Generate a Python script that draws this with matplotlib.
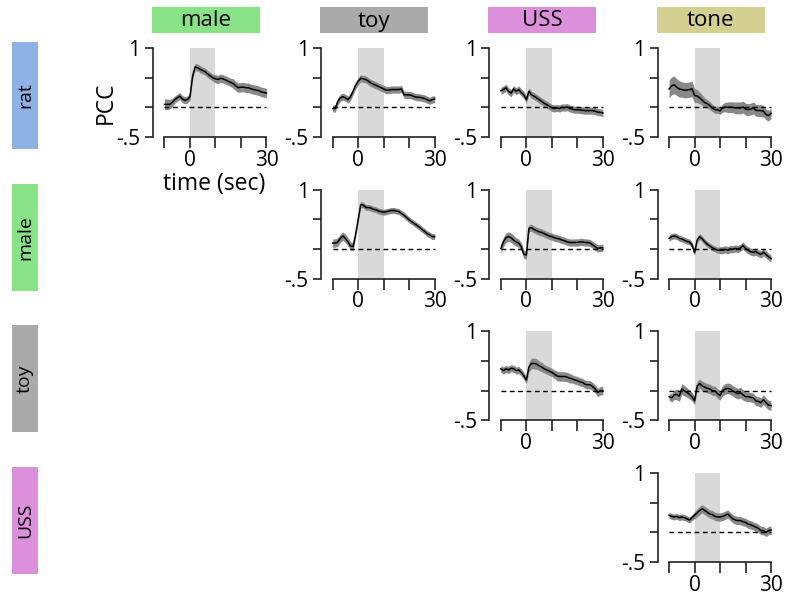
import matplotlib
matplotlib.use('Agg')
import matplotlib.pyplot as plt
import numpy as np
from matplotlib.patches import Rectangle

plt.rcParams['font.family'] = 'Open Sans'

# time axis, 1 s bins from -10 to 30 s
t = np.arange(-10, 31)

col_names = ['male', 'toy', 'USS', 'tone']
col_colors = ['#88e288', '#aaaaaa', '#dc90dc', '#d4d092']
row_names = ['rat', 'male', 'toy', 'USS']
row_colors = ['#8eb1e6', '#88e288', '#aaaaaa', '#dc90dc']

rat_male = [0.05, 0.05, 0.05, 0.08, 0.13, 0.16, 0.19, 0.14, 0.12, 0.13,
            0.18, 0.52, 0.68, 0.67, 0.64, 0.62, 0.60, 0.56, 0.53, 0.50,
            0.48, 0.47, 0.49, 0.48, 0.46, 0.44, 0.42, 0.40, 0.36, 0.33,
            0.34, 0.34, 0.33, 0.33, 0.31, 0.30, 0.29, 0.28, 0.26, 0.25, 0.24]
rat_male_sem = [0.09, 0.09, 0.08, 0.07, 0.06, 0.06, 0.06, 0.06, 0.06, 0.06,
                0.06, 0.06, 0.06, 0.06, 0.06, 0.06, 0.06, 0.06, 0.06, 0.06,
                0.07, 0.07, 0.07, 0.07, 0.07, 0.07, 0.07, 0.08, 0.08, 0.08,
                0.08, 0.08, 0.08, 0.08, 0.08, 0.08, 0.08, 0.08, 0.08, 0.08, 0.08]

rat_toy = [-0.02, -0.02, 0.10, 0.16, 0.18, 0.16, 0.13, 0.18, 0.27, 0.37,
           0.44, 0.49, 0.48, 0.47, 0.44, 0.41, 0.39, 0.37, 0.35, 0.33,
           0.31, 0.29, 0.29, 0.30, 0.30, 0.30, 0.30, 0.31, 0.21, 0.21,
           0.21, 0.20, 0.18, 0.17, 0.17, 0.16, 0.15, 0.13, 0.11, 0.13, 0.14]
rat_toy_sem = [0.06, 0.06, 0.06, 0.06, 0.06, 0.06, 0.06, 0.06, 0.06, 0.06,
               0.06, 0.06, 0.06, 0.06, 0.06, 0.06, 0.06, 0.06, 0.06, 0.06,
               0.06, 0.06, 0.06, 0.06, 0.06, 0.06, 0.06, 0.06, 0.06, 0.06,
               0.06, 0.06, 0.06, 0.06, 0.06, 0.06, 0.06, 0.06, 0.06, 0.06, 0.06]

rat_uss = [0.28, 0.30, 0.33, 0.27, 0.24, 0.31, 0.27, 0.30, 0.25, 0.21,
           0.13, 0.27, 0.21, 0.19, 0.16, 0.13, 0.10, 0.07, 0.045, 0.02,
           -0.01, -0.02, -0.01, -0.02, 0.0, -0.005, 0.005, -0.02, -0.03, -0.04,
           -0.04, -0.045, -0.05, -0.055, -0.055, -0.055, -0.055, -0.065, -0.08, -0.085, -0.095]
rat_uss_sem = [0.06, 0.06, 0.06, 0.06, 0.06, 0.06, 0.06, 0.06, 0.06, 0.06,
               0.06, 0.06, 0.06, 0.06, 0.06, 0.06, 0.06, 0.06, 0.06, 0.06,
               0.06, 0.06, 0.06, 0.06, 0.06, 0.06, 0.06, 0.06, 0.06, 0.06,
               0.06, 0.06, 0.06, 0.06, 0.06, 0.06, 0.06, 0.06, 0.06, 0.06, 0.06]

rat_tone = [0.31, 0.36, 0.38, 0.34, 0.31, 0.30, 0.29, 0.29, 0.30, 0.31,
            0.20, 0.19, 0.16, 0.12, 0.08, 0.06, 0.03, -0.01, -0.04, -0.04,
            -0.06, -0.01, 0.005, 0.0, 0.005, 0.0, -0.01, -0.01, -0.01, 0.005,
            -0.03, -0.04, -0.03, -0.01, -0.05, -0.055, -0.055, -0.065, -0.12, -0.14, -0.10]
rat_tone_sem = [0.15, 0.15, 0.15, 0.14, 0.14, 0.13, 0.13, 0.13, 0.13, 0.13,
                0.12, 0.11, 0.10, 0.09, 0.08, 0.07, 0.07, 0.06, 0.06, 0.06,
                0.06, 0.07, 0.08, 0.09, 0.09, 0.09, 0.10, 0.10, 0.10, 0.10,
                0.10, 0.10, 0.10, 0.10, 0.10, 0.10, 0.10, 0.10, 0.09, 0.09, 0.09]

male_toy = [0.10, 0.10, 0.12, 0.18, 0.22, 0.18, 0.12, 0.05, 0.04, 0.25,
            0.50, 0.75, 0.74, 0.70, 0.70, 0.69, 0.67, 0.66, 0.64, 0.63,
            0.62, 0.63, 0.64, 0.65, 0.65, 0.64, 0.63, 0.60, 0.57, 0.53,
            0.49, 0.46, 0.43, 0.40, 0.37, 0.33, 0.30, 0.26, 0.24, 0.21, 0.21]
male_toy_sem = [0.07, 0.07, 0.07, 0.07, 0.07, 0.07, 0.07, 0.07, 0.07, 0.06,
                0.05, 0.05, 0.05, 0.05, 0.05, 0.05, 0.05, 0.05, 0.05, 0.05,
                0.05, 0.05, 0.05, 0.05, 0.05, 0.05, 0.05, 0.05, 0.05, 0.05,
                0.05, 0.05, 0.05, 0.05, 0.05, 0.05, 0.05, 0.05, 0.05, 0.05, 0.05]

male_uss = [0.01, 0.12, 0.19, 0.21, 0.19, 0.15, 0.12, 0.10, 0.04, -0.09,
            -0.10, 0.35, 0.36, 0.33, 0.31, 0.29, 0.28, 0.26, 0.24, 0.22,
            0.21, 0.19, 0.18, 0.17, 0.15, 0.14, 0.12, 0.11, 0.11, 0.11,
            0.11, 0.12, 0.12, 0.11, 0.11, 0.10, 0.07, 0.04, 0.01, 0.02, 0.02]
male_uss_sem = [0.08, 0.08, 0.08, 0.08, 0.08, 0.08, 0.07, 0.07, 0.07, 0.07,
                0.07, 0.06, 0.06, 0.06, 0.06, 0.06, 0.06, 0.06, 0.06, 0.06,
                0.06, 0.06, 0.06, 0.06, 0.06, 0.06, 0.06, 0.06, 0.06, 0.06,
                0.06, 0.06, 0.06, 0.06, 0.06, 0.06, 0.06, 0.06, 0.06, 0.06, 0.06]

male_tone = [0.18, 0.21, 0.22, 0.21, 0.18, 0.17, 0.15, 0.13, 0.12, 0.07,
             -0.06, 0.15, 0.21, 0.17, 0.12, 0.08, 0.05, 0.02, 0.0, -0.02,
             -0.02, -0.02, -0.005, -0.02, 0.0, -0.005, 0.01, 0.0, 0.02, 0.06,
             0.01, -0.02, -0.045, -0.055, -0.045, -0.07, -0.09, -0.055, -0.09, -0.13, -0.16]
male_tone_sem = [0.05, 0.05, 0.05, 0.05, 0.05, 0.05, 0.05, 0.05, 0.05, 0.05,
                 0.05, 0.05, 0.05, 0.05, 0.05, 0.05, 0.05, 0.05, 0.05, 0.05,
                 0.06, 0.06, 0.06, 0.06, 0.06, 0.06, 0.06, 0.06, 0.06, 0.06,
                 0.06, 0.06, 0.06, 0.06, 0.06, 0.06, 0.06, 0.06, 0.06, 0.06, 0.06]

toy_uss = [0.37, 0.34, 0.37, 0.35, 0.38, 0.37, 0.34, 0.35, 0.31, 0.25,
           0.18, 0.40, 0.46, 0.46, 0.45, 0.42, 0.40, 0.37, 0.35, 0.33,
           0.31, 0.28, 0.25, 0.24, 0.24, 0.24, 0.23, 0.21, 0.20, 0.18,
           0.17, 0.15, 0.14, 0.11, 0.10, 0.10, 0.07, 0.03, -0.03, 0.0, 0.0]
toy_uss_sem = [0.06, 0.06, 0.06, 0.06, 0.06, 0.06, 0.06, 0.06, 0.06, 0.06,
               0.06, 0.08, 0.09, 0.09, 0.09, 0.08, 0.08, 0.07, 0.07, 0.07,
               0.07, 0.07, 0.08, 0.08, 0.08, 0.08, 0.08, 0.08, 0.07, 0.07,
               0.07, 0.07, 0.07, 0.07, 0.07, 0.07, 0.07, 0.07, 0.07, 0.07, 0.07]

toy_tone = [-0.10, -0.12, -0.07, -0.06, -0.09, 0.03, 0.0, -0.03, -0.06, -0.10,
            -0.17, 0.08, 0.12, 0.08, 0.06, 0.04, 0.03, 0.0, 0.0, -0.05,
            -0.08, 0.0, 0.03, 0.04, 0.03, 0.0, -0.03, -0.05, -0.03, -0.07,
            -0.10, -0.10, -0.11, -0.12, -0.17, -0.18, -0.20, -0.15, -0.20, -0.24, -0.25]
toy_tone_sem = [0.06, 0.07, 0.08, 0.09, 0.09, 0.09, 0.09, 0.08, 0.08, 0.07,
                0.07, 0.08, 0.08, 0.08, 0.08, 0.08, 0.08, 0.08, 0.08, 0.08,
                0.08, 0.09, 0.09, 0.09, 0.09, 0.09, 0.09, 0.09, 0.09, 0.09,
                0.08, 0.08, 0.08, 0.08, 0.08, 0.08, 0.08, 0.08, 0.08, 0.08, 0.08]

uss_tone = [0.29, 0.27, 0.26, 0.27, 0.25, 0.26, 0.25, 0.23, 0.21, 0.25,
            0.29, 0.33, 0.37, 0.40, 0.37, 0.34, 0.31, 0.30, 0.27, 0.26,
            0.26, 0.27, 0.29, 0.31, 0.27, 0.23, 0.21, 0.20, 0.20, 0.18,
            0.17, 0.14, 0.13, 0.11, 0.09, 0.07, 0.03, 0.03, 0.0, 0.03, 0.04]
uss_tone_sem = [0.05, 0.05, 0.05, 0.05, 0.05, 0.05, 0.05, 0.05, 0.05, 0.05,
                0.06, 0.07, 0.07, 0.07, 0.07, 0.07, 0.07, 0.07, 0.07, 0.07,
                0.07, 0.07, 0.07, 0.07, 0.07, 0.07, 0.07, 0.07, 0.07, 0.07,
                0.07, 0.07, 0.07, 0.07, 0.07, 0.07, 0.07, 0.07, 0.07, 0.07, 0.07]

panels = [
    (0, 0, rat_male, rat_male_sem),
    (0, 1, rat_toy, rat_toy_sem),
    (0, 2, rat_uss, rat_uss_sem),
    (0, 3, rat_tone, rat_tone_sem),
    (1, 1, male_toy, male_toy_sem),
    (1, 2, male_uss, male_uss_sem),
    (1, 3, male_tone, male_tone_sem),
    (2, 2, toy_uss, toy_uss_sem),
    (2, 3, toy_tone, toy_tone_sem),
    (3, 3, uss_tone, uss_tone_sem),
]

W, H = 785, 599
fig = plt.figure(figsize=(W / 100, H / 100), dpi=100)

for r, c, m, s in panels:
    left = 153 + 168.2 * c
    top = 48 + 141.7 * r
    ax = fig.add_axes([left / W, 1 - (top + 89) / H, 116 / W, 89 / H])
    m = np.array(m)
    s = np.array(s)
    ax.axvspan(0, 10, color='#d9d9d9', lw=0, zorder=0)
    ax.fill_between(t, m - s, m + s, color='#888888', lw=0, zorder=1)
    ax.plot(t, m, color='black', lw=1.1, zorder=2)
    ax.plot([-10, 30], [0, 0], color='black', lw=1, ls=(0, (3.5, 2.5)), zorder=3)
    ax.set_xlim(-14.5, 31)
    ax.set_ylim(-0.5, 1)
    for sp in ['top', 'right']:
        ax.spines[sp].set_visible(False)
    ax.spines['left'].set_bounds(-0.5, 1)
    ax.spines['bottom'].set_bounds(-10, 30)
    for sp in ['left', 'bottom']:
        ax.spines[sp].set_linewidth(1.2)
        ax.spines[sp].set_color('#222222')
    ax.set_yticks([-0.5, 0, 0.5, 1])
    ax.set_yticklabels(['-.5', '', '', '1'])
    ax.set_xticks([-10, 0, 10, 20, 30])
    ax.set_xticklabels(['', '0', '', '', '30'])
    ax.tick_params(width=1.2, color='#222222', labelsize=15)
    ax.tick_params(axis='y', length=6, pad=3)
    ax.tick_params(axis='x', length=8, pad=1)
    if r == 0 and c == 0:
        ax.set_ylabel('PCC', fontsize=16.5)
        ax.yaxis.label.set_va('center')
        ax.yaxis.set_label_coords(-0.41, 0.39)
        ax.set_xlabel('time (sec)', fontsize=16.5)
        ax.xaxis.label.set_va('center')
        ax.xaxis.set_label_coords(0.53, -0.53)

# column headers
for c, (name, col) in enumerate(zip(col_names, col_colors)):
    x0 = 152 + 168.2 * c
    fig.patches.append(Rectangle((x0 / W, 1 - 33 / H), 108 / W, 26 / H,
                                 transform=fig.transFigure, color=col, lw=0))
    fig.text((x0 + 54) / W, 1 - 21 / H, name, ha='center', va='center', fontsize=16)

# row headers
for r, (name, col) in enumerate(zip(row_names, row_colors)):
    y0 = 42 + 141.7 * r
    fig.patches.append(Rectangle((12 / W, 1 - (y0 + 107) / H), 26 / W, 107 / H,
                                 transform=fig.transFigure, color=col, lw=0))
    fig.text(25 / W, 1 - (y0 + 53.5) / H, name, ha='center', va='center',
             rotation=90, fontsize=14)

fig.savefig('out.png', dpi=100)
